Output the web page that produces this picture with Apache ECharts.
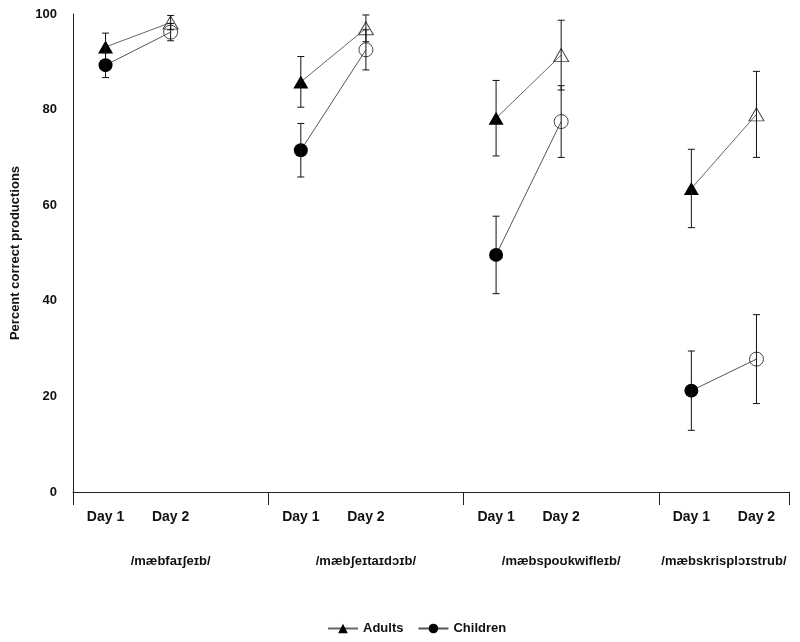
<!DOCTYPE html>
<html>
<head>
<meta charset="utf-8">
<script src="https://cdn.jsdelivr.net/npm/echarts@6/dist/echarts.min.js"></script>
<style>html,body{margin:0;padding:0;background:#fff}#c{width:800px;height:642px}</style>
</head>
<body>
<div id="c"></div>
<script>
// ---- data ----
var groups = ['/mæbfaɪʃeɪb/', '/mæbʃeɪtaɪdɔɪb/', '/mæbspoʊkwifleɪb/', '/mæbskrisplɔɪstrub/'];
var days = ['Day 1', 'Day 2'];
var adultsDay1 = [93.1, 85.8, 78.2, 63.5];
var adultsDay2 = [98.2, 97.0, 91.4, 79.0];
var adultsErr1 = [2.9, 5.3, 7.9, 8.2];
var adultsErr2 = [1.5, 2.8, 7.3, 9.0];
var childDay1 = [89.3, 71.5, 49.6, 21.2];
var childDay2 = [96.2, 92.5, 77.5, 27.8];
var childErr1 = [2.6, 5.6, 8.1, 8.3];
var childErr2 = [1.8, 4.2, 7.5, 9.3];
var yTicks = [0, 20, 40, 60, 80, 100];

// ---- layout helpers (slot units on x) ----
var SLOTS_PER_GROUP = 6;
function xOf(g, d) { return g * SLOTS_PER_GROUP + (d === 0 ? 1 : 3); }
var groupLabelX = [3, 9, 15, 20];

function lineData(v1, v2) {
  var out = [];
  for (var g = 0; g < groups.length; g++) {
    out.push({ value: [xOf(g, 0), v1[g]] });
    out.push({ value: [xOf(g, 1), v2[g]], itemStyle: { color: 'rgba(0,0,0,0)', borderColor: '#444', borderWidth: 1 } });
    if (g < groups.length - 1) out.push({ value: [xOf(g, 1) + 1, '-'] });
  }
  return out;
}
function errData(v1, e1, v2, e2) {
  var out = [];
  for (var g = 0; g < groups.length; g++) {
    out.push([xOf(g, 0), v1[g] - e1[g], v1[g] + e1[g]]);
    out.push([xOf(g, 1), v2[g] - e2[g], v2[g] + e2[g]]);
  }
  return out;
}
function renderErr(params, api) {
  var x = api.value(0);
  var lo = api.coord([x, api.value(1)]);
  var hi = api.coord([x, api.value(2)]);
  var cw = 3.5;
  var st = { stroke: '#111', lineWidth: 1 };
  return {
    type: 'group',
    children: [
      { type: 'line', shape: { x1: lo[0], y1: lo[1], x2: hi[0], y2: hi[1] }, style: st },
      { type: 'line', shape: { x1: lo[0] - cw, y1: lo[1], x2: lo[0] + cw, y2: lo[1] }, style: st },
      { type: 'line', shape: { x1: hi[0] - cw, y1: hi[1], x2: hi[0] + cw, y2: hi[1] }, style: st }
    ]
  };
}

var dayVals = [], groupVals = [];
for (var g = 0; g < groups.length; g++) { dayVals.push(xOf(g, 0), xOf(g, 1)); groupVals.push(groupLabelX[g]); }
function dayName(v) { return days[(v % SLOTS_PER_GROUP) === 1 ? 0 : 1]; }
function groupName(v) { return groups[groupLabelX.indexOf(v)]; }

var font = 'Liberation Sans, Arial, sans-serif';
var chart = echarts.init(document.getElementById('c'), null, { renderer: 'canvas' });
chart.setOption({
  animation: false,
  backgroundColor: '#fff',
  textStyle: { fontFamily: font },
  grid: { left: 73, right: 11, top: 14, bottom: 150, containLabel: false, outerBoundsMode: 'none' },
  xAxis: [{
    type: 'value', min: 0, max: 22, interval: 6,
    axisLine: { show: true, onZero: false, lineStyle: { color: '#222', width: 1 } },
    axisTick: { show: true, length: 13, inside: false, lineStyle: { color: '#222' } },
    axisLabel: { show: true, customValues: dayVals, formatter: dayName, margin: 18,
      color: '#111', fontWeight: 'bold', fontSize: 14, fontFamily: font },
    splitLine: { show: false }
  }, {
    type: 'value', min: 0, max: 22, position: 'bottom', gridIndex: 0,
    axisLine: { show: false }, axisTick: { show: false }, splitLine: { show: false },
    axisLabel: { show: true, customValues: groupVals, formatter: groupName, margin: 63,
      color: '#111', fontWeight: 'bold', fontSize: 13, fontFamily: font }
  }],
  yAxis: {
    type: 'value', min: 0, max: 100, interval: 20,
    name: 'Percent correct productions', nameLocation: 'middle', nameGap: 51,
    nameTextStyle: { color: '#111', fontWeight: 'bold', fontSize: 13, fontFamily: font },
    axisLine: { show: true, lineStyle: { color: '#222', width: 1 } },
    axisTick: { show: false },
    axisLabel: { margin: 16, color: '#111', fontWeight: 'bold', fontSize: 13, fontFamily: font,
      formatter: function (v) { return yTicks.indexOf(v) >= 0 ? String(v) : ''; } },
    splitLine: { show: false }
  },
  legend: {
    bottom: 2, left: 322, itemWidth: 30, itemHeight: 12, itemGap: 14,
    data: ['Adults', 'Children'],
    textStyle: { color: '#111', fontWeight: 'bold', fontSize: 13, fontFamily: font }
  },
  series: [
    { name: 'Adults', type: 'line', symbol: 'triangle', symbolSize: [15, 13],
      itemStyle: { color: '#000' }, lineStyle: { color: '#666', width: 1 },
      connectNulls: false, data: lineData(adultsDay1, adultsDay2), z: 3 },
    { name: 'Children', type: 'line', symbol: 'circle', symbolSize: 14,
      itemStyle: { color: '#000' }, lineStyle: { color: '#555', width: 1 },
      connectNulls: false, data: lineData(childDay1, childDay2), z: 3 },
    { name: 'errA', type: 'custom', renderItem: renderErr, encode: { x: 0, y: [1, 2] },
      data: errData(adultsDay1, adultsErr1, adultsDay2, adultsErr2), z: 4 },
    { name: 'errC', type: 'custom', renderItem: renderErr, encode: { x: 0, y: [1, 2] },
      data: errData(childDay1, childErr1, childDay2, childErr2), z: 4 }
  ]
});
</script>
</body>
</html>
